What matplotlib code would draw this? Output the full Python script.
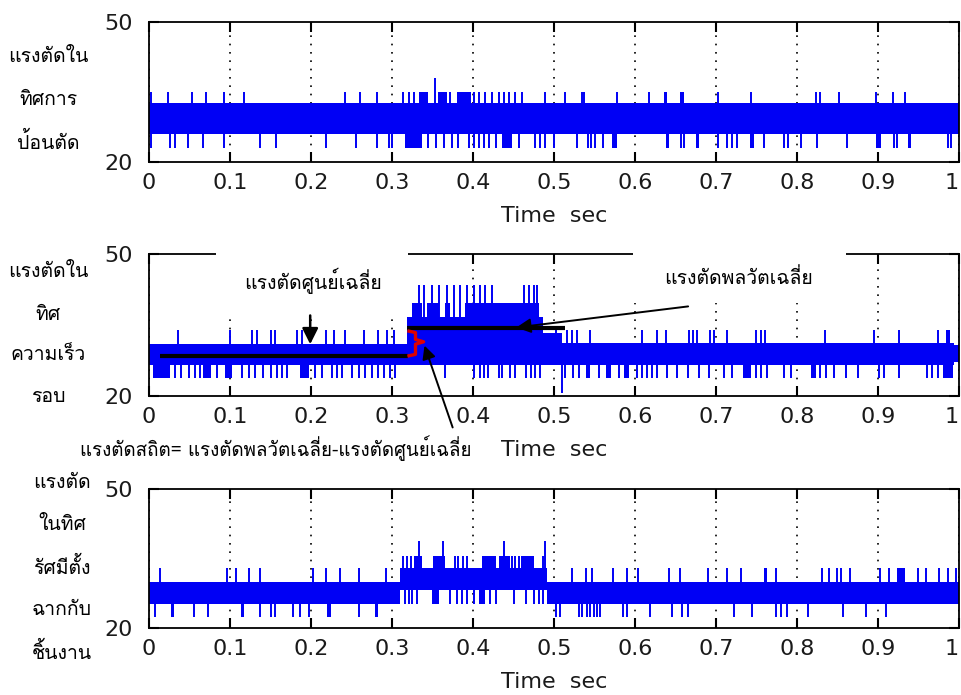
import matplotlib
matplotlib.use('Agg')
import matplotlib.pyplot as plt
from matplotlib import font_manager
from matplotlib.ft2font import FT2Font
from matplotlib.patches import Rectangle

# หา font ที่มีอักษรไทย
thai_font = 'DejaVu Sans'
for f in font_manager.fontManager.ttflist:
    try:
        if 0x0E01 in FT2Font(f.fname).get_charmap():
            thai_font = f.name
            break
    except Exception:
        pass
thai_fam = [thai_font, 'DejaVu Sans']

xticks = [0, 0.1, 0.2, 0.3, 0.4, 0.5, 0.6, 0.7, 0.8, 0.9, 1.0]
xtick_labels = ['0', '0.1', '0.2', '0.3', '0.4', '0.5', '0.6', '0.7', '0.8', '0.9', '1']

# ---- panel 1 : feed direction
p1_edges = [0.0, 1.0]
p1_lo = [26.1]
p1_hi = [32.6]
p1_up_t = [0.003, 0.023, 0.053, 0.070, 0.093, 0.117, 0.242, 0.261, 0.281, 0.314, 0.321,
           0.327, 0.372, 0.401, 0.407, 0.415, 0.424, 0.432, 0.438, 0.444, 0.452, 0.461,
           0.489, 0.513, 0.534, 0.537, 0.578, 0.617, 0.638, 0.658, 0.702, 0.743, 0.824,
           0.829, 0.852, 0.897, 0.918, 0.933]
p1_up_level = 35.1
p1_up_blocks = [(0.333, 0.345), (0.357, 0.368), (0.380, 0.397), (0.636, 0.640), (0.656, 0.660)]
p1_tall_t = [0.353]
p1_tall_level = 37.9
p1_dn_t = [0.003, 0.026, 0.032, 0.048, 0.067, 0.093, 0.137, 0.157, 0.218, 0.255, 0.281,
           0.296, 0.300, 0.345, 0.354, 0.364, 0.374, 0.382, 0.395, 0.401, 0.407, 0.413,
           0.420, 0.428, 0.457, 0.477, 0.483, 0.489, 0.500, 0.529, 0.542, 0.546, 0.551,
           0.561, 0.657, 0.661, 0.702, 0.714, 0.720, 0.726, 0.759, 0.784, 0.789, 0.805,
           0.825, 0.862, 0.920, 0.924, 0.986, 0.990]
p1_dn_level = 23.1
p1_dn_blocks = [(0.316, 0.337), (0.436, 0.448), (0.572, 0.578), (0.638, 0.642), (0.675, 0.679),
                (0.742, 0.747), (0.897, 0.904), (0.937, 0.941)]

# ---- panel 2 : cutting speed direction
p2_edges = [0.0, 0.318, 0.487, 0.51, 0.994, 1.0]
p2_lo = [26.5, 26.5, 26.5, 26.5, 27.2]
p2_hi = [31.0, 36.75, 33.3, 31.1, 30.8]
p2_up_t = [0.036, 0.100, 0.127, 0.133, 0.151, 0.155, 0.183, 0.189, 0.218, 0.228, 0.242,
           0.265, 0.283, 0.294, 0.302, 0.502, 0.516, 0.522, 0.529, 0.544, 0.609, 0.627,
           0.638, 0.667, 0.671, 0.677, 0.693, 0.698, 0.714, 0.749, 0.755, 0.761, 0.834,
           0.895, 0.926, 0.974]
p2_up_level = 34.0
p2_up_blocks = [(0.984, 0.989)]
p2_high_t = [0.333, 0.339, 0.349, 0.358, 0.368, 0.376, 0.384, 0.393, 0.401, 0.409, 0.415,
             0.424, 0.463, 0.469, 0.475, 0.479]
p2_high_level = 43.5
p2_high_blocks = [(0.325, 0.337), (0.343, 0.358), (0.365, 0.372), (0.390, 0.482)]
p2_high_block_level = 39.6
p2_dn_t = [0.032, 0.040, 0.049, 0.057, 0.063, 0.084, 0.115, 0.123, 0.131, 0.141, 0.150,
           0.158, 0.164, 0.170, 0.205, 0.213, 0.226, 0.232, 0.238, 0.251, 0.259, 0.267,
           0.275, 0.283, 0.290, 0.298, 0.304, 0.366, 0.401, 0.409, 0.413, 0.418, 0.432,
           0.436, 0.446, 0.452, 0.465, 0.471, 0.477, 0.483, 0.514, 0.524, 0.531, 0.555,
           0.580, 0.603, 0.609, 0.615, 0.621, 0.627, 0.640, 0.652, 0.665, 0.679, 0.691,
           0.710, 0.720, 0.749, 0.755, 0.763, 0.784, 0.792, 0.829, 0.836, 0.846, 0.860,
           0.875, 0.901, 0.907, 0.926, 0.961, 0.967, 0.974]
p2_dn_level = 23.8
p2_dn_blocks = [(0.005, 0.026), (0.067, 0.077), (0.094, 0.102), (0.187, 0.197), (0.539, 0.545),
                (0.564, 0.570), (0.586, 0.592), (0.733, 0.743), (0.817, 0.823), (0.980, 0.992)]
p2_long_t = [0.51]
p2_long_level = 20.6

# ค่าเฉลี่ย (เส้นดำ) และช่วงเวลา
mean_idle = 28.5
mean_cut = 34.4
idle_span = (0.0136, 0.320)
cut_span = (0.318, 0.514)

# ---- panel 3 : radial direction
p3_edges = [0.0, 0.310, 0.491, 1.0]
p3_lo = [25.1, 28.2, 25.1]
p3_hi = [30.0, 32.9, 30.0]
p3_up_t = [0.014, 0.096, 0.108, 0.123, 0.137, 0.203, 0.218, 0.236, 0.259, 0.293, 0.522,
           0.540, 0.547, 0.573, 0.590, 0.604, 0.642, 0.656, 0.690, 0.714, 0.731, 0.761,
           0.774, 0.831, 0.840, 0.849, 0.854, 0.866, 0.902, 0.914, 0.949, 0.959, 0.975,
           0.986, 0.996]
p3_up_level = 32.9
p3_up_blocks = [(0.924, 0.933), (0.759, 0.763)]
p3_high_t = [0.314, 0.319, 0.323, 0.378, 0.382, 0.388, 0.393, 0.448, 0.452, 0.457, 0.487]
p3_high_blocks = [(0.327, 0.337), (0.351, 0.366), (0.411, 0.428), (0.432, 0.446), (0.459, 0.475)]
p3_high_level = 35.5
p3_tall_t = [0.333, 0.363, 0.438, 0.489]
p3_tall_level = 38.8
p3_dn_t = [0.007, 0.056, 0.073, 0.137, 0.151, 0.156, 0.178, 0.187, 0.197, 0.259, 0.502,
           0.508, 0.531, 0.535, 0.541, 0.545, 0.549, 0.553, 0.557, 0.585, 0.590, 0.619,
           0.646, 0.658, 0.665, 0.722, 0.745, 0.774, 0.780, 0.788, 0.813, 0.857, 0.885, 0.910]
p3_dn_blocks = [(0.027, 0.031), (0.113, 0.117), (0.220, 0.225), (0.279, 0.283)]
p3_dn_level = 22.3
p3_high_dn_t = [0.316, 0.321, 0.325, 0.331, 0.372, 0.380, 0.387, 0.393, 0.401, 0.421, 0.428,
                0.450, 0.465, 0.475, 0.481, 0.487]
p3_high_dn_blocks = [(0.349, 0.358), (0.407, 0.415)]
p3_high_dn_level = 25.1

BLUE = '#0000f5'
TXT = '#1a1a1a'

fig = plt.figure(figsize=(9.62, 6.95), dpi=100)
ax1 = fig.add_axes([149/962, 1-162/695, 810/962, 140/695])
ax2 = fig.add_axes([149/962, 1-396/695, 810/962, 142/695])
ax3 = fig.add_axes([149/962, 1-628/695, 810/962, 139/695])


def band_mid(edges, lo, hi, t):
    for i in range(len(lo)):
        if edges[i] <= t < edges[i+1] or (i == len(lo)-1 and t >= edges[i]):
            return (lo[i] + hi[i]) / 2
    return (lo[-1] + hi[-1]) / 2


def draw(ax, edges, lo, hi, spikes, blocks):
    ax.stairs(hi, edges, baseline=lo, fill=True, color=BLUE, zorder=2)
    for times, level in spikes:
        base = [band_mid(edges, lo, hi, t) for t in times]
        ax.vlines(times, base, level, color=BLUE, lw=1.4, zorder=2)
    for spans, level in blocks:
        for a, b in spans:
            m = band_mid(edges, lo, hi, (a + b) / 2)
            ax.bar(a, level - m, width=b - a, bottom=m, align='edge', color=BLUE, lw=0, zorder=2)


def style(ax):
    ax.set_xlim(0, 1)
    ax.set_ylim(20, 50)
    ax.set_xticks(xticks)
    ax.set_xticklabels(xtick_labels)
    ax.get_xticklabels()[-1].set_ha('right')
    ax.set_yticks([20, 50])
    ax.tick_params(direction='in', length=7, width=1.5, top=True, right=True,
                   labelsize=16, pad=8, labelcolor=TXT)
    ax.tick_params(axis='y', pad=12)
    ax.grid(axis='x', color='black', linestyle=(0, (1, 4)), lw=1.2)
    ax.set_axisbelow(True)
    for s in ax.spines.values():
        s.set_linewidth(1.3)
    ax.set_xlabel('Time  sec', fontsize=16, color=TXT, labelpad=9)


draw(ax1, p1_edges, p1_lo, p1_hi,
     [(p1_up_t, p1_up_level), (p1_tall_t, p1_tall_level), (p1_dn_t, p1_dn_level)],
     [(p1_up_blocks, p1_up_level), (p1_dn_blocks, p1_dn_level)])
draw(ax2, p2_edges, p2_lo, p2_hi,
     [(p2_up_t, p2_up_level), (p2_high_t, p2_high_level), (p2_dn_t, p2_dn_level),
      (p2_long_t, p2_long_level)],
     [(p2_up_blocks, p2_up_level), (p2_high_blocks, p2_high_block_level),
      (p2_dn_blocks, p2_dn_level)])
draw(ax3, p3_edges, p3_lo, p3_hi,
     [(p3_up_t, p3_up_level), (p3_high_t, p3_high_level), (p3_tall_t, p3_tall_level),
      (p3_dn_t, p3_dn_level), (p3_high_dn_t, p3_high_dn_level)],
     [(p3_up_blocks, p3_up_level), (p3_high_blocks, p3_high_level),
      (p3_dn_blocks, p3_dn_level), (p3_high_dn_blocks, p3_high_dn_level)])
for ax in (ax1, ax2, ax3):
    style(ax)

# ---- annotations on panel 2
ax2.add_patch(Rectangle((0.083, 37.3), 0.237, 14.5, facecolor='white', edgecolor='none',
                        clip_on=False, zorder=5))
ax2.add_patch(Rectangle((0.597, 39.6), 0.263, 12.2, facecolor='white', edgecolor='none',
                        clip_on=False, zorder=5))
ax2.text(0.202, 44.4, 'แรงตัดศูนย์เฉลี่ย', ha='center', va='center', fontsize=14,
         family=thai_fam, zorder=6)
ax2.text(0.728, 45.0, 'แรงตัดพลวัตเฉลี่ย', ha='center', va='center', fontsize=14,
         family=thai_fam, zorder=6)

ax2.plot(idle_span, [mean_idle, mean_idle], color='black', lw=3, solid_capstyle='butt', zorder=4)
ax2.plot(cut_span, [mean_cut, mean_cut], color='black', lw=3, solid_capstyle='butt', zorder=4)

# วงเล็บสีแดง
bx0 = idle_span[1] + 0.001
bx1 = bx0 + 0.008
bx2 = bx0 + 0.018
bmid = (mean_idle + mean_cut) / 2
ax2.plot([bx0, bx1, bx1, bx2, bx1, bx1, bx0],
         [mean_cut - 0.7, mean_cut - 1.0, bmid + 0.5, bmid, bmid - 0.5, mean_idle + 0.3, mean_idle],
         color='#e00000', lw=2.4, solid_joinstyle='round', zorder=6)

ax2.annotate('', xy=(0.199, 30.35), xytext=(0.199, 37.6),
             arrowprops=dict(arrowstyle='-|>', color='black', lw=1.8, mutation_scale=24),
             zorder=7)
ax2.annotate('', xy=(0.450, mean_cut), xytext=(0.669, 39.0),
             arrowprops=dict(arrowstyle='-|>', color='black', lw=1.4, mutation_scale=22),
             zorder=7)
ax2.annotate('', xy=(bx2, 31.2), xytext=(0.376, 12.8), annotation_clip=False,
             arrowprops=dict(arrowstyle='-|>', color='black', lw=1.4, mutation_scale=20),
             zorder=7)

fig.text(80/962, 1-448/695, 'แรงตัดสถิต= แรงตัดพลวัตเฉลี่ย-แรงตัดศูนย์เฉลี่ย', ha='left',
         va='center', fontsize=13.5, family=thai_fam)

# ---- ป้ายแกน y (ภาษาไทย)
left_labels = [
    (48, 57, 'แรงตัดใน'), (48, 100, 'ทิศการ'), (48, 142, 'ป้อนตัด'),
    (48, 272, 'แรงตัดใน'), (48, 315, 'ทิศ'), (48, 355, 'ความเร็ว'), (48, 397, 'รอบ'),
    (62, 483, 'แรงตัด'), (62, 525, 'ในทิศ'), (62, 567, 'รัศมีตั้ง'), (62, 610, 'ฉากกับ'),
    (62, 652, 'ชิ้นงาน'),
]
for x, y, s in left_labels:
    fig.text(x/962, 1-y/695, s, ha='center', va='center', fontsize=14, family=thai_fam)

fig.savefig('out.png', dpi=100)
